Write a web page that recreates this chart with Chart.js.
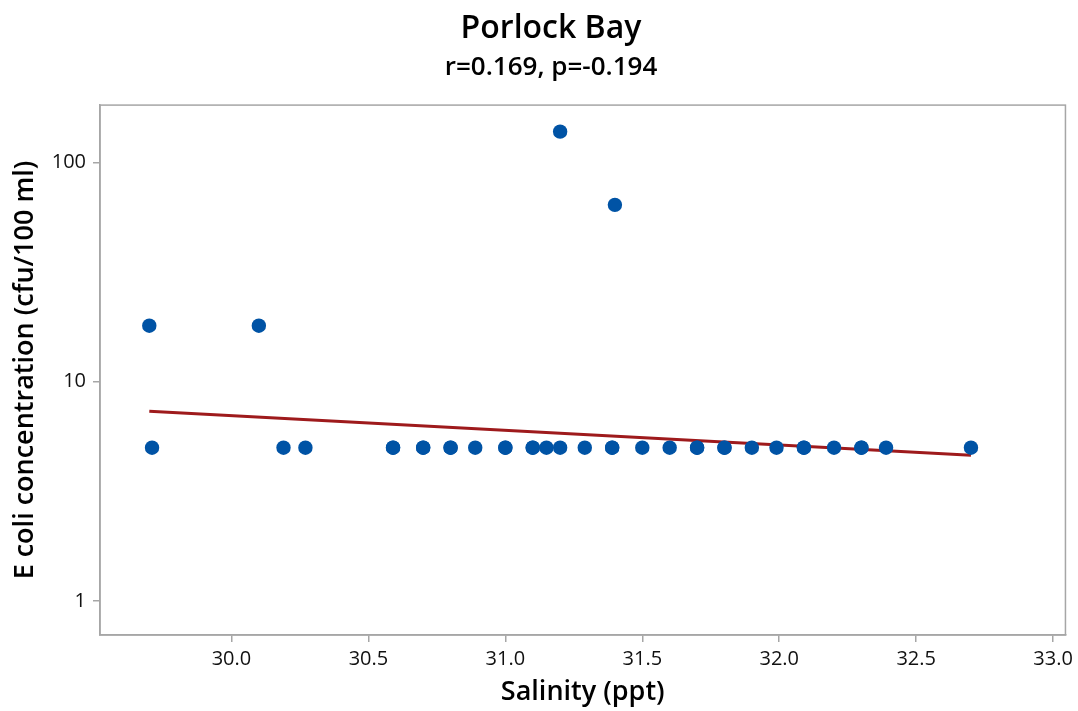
<!DOCTYPE html>
<html>
<head>
<meta charset="utf-8">
<script src="https://cdn.jsdelivr.net/npm/chart.js@4.4.1/dist/chart.umd.min.js"></script>
<style>
html,body{margin:0;padding:0;background:#fff;}
#wrap{width:1078px;height:711px;}
</style>
</head>
<body>
<div id="wrap"><canvas id="c" width="1078" height="711"></canvas></div>
<script>
const salinity = [29.70, 30.10, 31.20, 31.40,
  29.71, 30.19, 30.27, 30.59, 30.59, 30.70, 30.70, 30.80, 30.80, 30.89, 31.00, 31.00, 31.10, 31.10, 31.15, 31.20, 31.29, 31.39, 31.39, 31.50, 31.60, 31.70, 31.70, 31.80, 31.80, 31.90, 31.99, 32.09, 32.09, 32.20, 32.30, 32.30, 32.39, 32.70];
const ecoli = [18, 18, 138, 64,
  5, 5, 5, 5, 5, 5, 5, 5, 5, 5, 5, 5, 5, 5, 5, 5, 5, 5, 5, 5, 5, 5, 5, 5, 5, 5, 5, 5, 5, 5, 5, 5, 5, 5];
const fitX = [29.70, 32.70];
const fitY = [7.33, 4.62];
const xTicks = [30.0, 30.5, 31.0, 31.5, 32.0, 32.5, 33.0];
const yTicks = [1, 10, 100];
const yTickLabels = ['1', '10', '100'];

const FONT = "'Open Sans', 'Noto Sans', sans-serif";
const GRAY = '#a6a6a6';

const framePlugin = {
  id: 'frame',
  afterDraw(chart) {
    const a = chart.chartArea, ctx = chart.ctx;
    ctx.save();
    ctx.strokeStyle = GRAY;
    ctx.lineWidth = 1.5;
    ctx.strokeRect(a.left, a.top, a.right - a.left, a.bottom - a.top);
    ctx.restore();
  }
};

new Chart(document.getElementById('c'), {
  type: 'scatter',
  data: {
    datasets: [
      {
        type: 'line',
        data: fitX.map((x, i) => ({x: x, y: fitY[i]})),
        borderColor: '#9e1a1c',
        borderWidth: 3,
        pointRadius: 0,
        fill: false,
        order: 2
      },
      {
        data: salinity.map((x, i) => ({x: x, y: ecoli[i]})),
        backgroundColor: '#0053a5',
        borderWidth: 0,
        pointRadius: 7.2,
        order: 1
      }
    ]
  },
  options: {
    responsive: false,
    animation: false,
    devicePixelRatio: 1,
    layout: {padding: {left: 30, right: 6, top: 0, bottom: 0}},
    plugins: {
      legend: {display: false},
      tooltip: {enabled: false},
      title: {
        display: true,
        text: 'Porlock Bay',
        color: '#000',
        font: {family: FONT, size: 32, weight: '600'},
        padding: {top: 9.5, bottom: 0}
      },
      subtitle: {
        display: true,
        text: 'r=0.169, p=-0.194',
        color: '#000',
        font: {family: FONT, size: 26, weight: '600'},
        padding: {top: 4, bottom: 22}
      }
    },
    scales: {
      x: {
        type: 'linear',
        min: 29.52,
        max: 33.045,
        afterBuildTicks(s) { s.ticks = xTicks.map(v => ({value: v})); },
        afterFit(s) { s.height = 76; },
        ticks: {
          color: '#111',
          font: {family: FONT, size: 20},
          padding: 5,
          maxRotation: 0,
          callback: v => Number(v).toFixed(1)
        },
        grid: {display: true, drawOnChartArea: false, drawTicks: true, tickLength: 7, color: GRAY, lineWidth: 1.5},
        border: {display: true, color: GRAY, width: 1.5},
        title: {
          display: true,
          text: 'Salinity (ppt)',
          color: '#000',
          font: {family: FONT, size: 27, weight: '600'},
          padding: {top: 0, bottom: 2}
        }
      },
      y: {
        type: 'logarithmic',
        min: 0.748,
        max: 182.4,
        afterBuildTicks(s) { s.ticks = yTicks.map(v => ({value: v})); },
        afterFit(s) { s.width = 70; },
        ticks: {
          color: '#111',
          font: {family: FONT, size: 20},
          padding: 7,
          callback: (v) => { const i = yTicks.indexOf(v); return i >= 0 ? yTickLabels[i] : ''; }
        },
        grid: {display: true, drawOnChartArea: false, drawTicks: true, tickLength: 7, color: GRAY, lineWidth: 1.5},
        border: {display: true, color: GRAY, width: 1.5},
        title: {
          display: true,
          text: 'E coli concentration (cfu/100 ml)',
          color: '#000',
          font: {family: FONT, size: 27, weight: '600'},
          padding: {top: -21, bottom: 0}
        }
      }
    }
  },
  plugins: [framePlugin]
});
</script>
</body>
</html>
